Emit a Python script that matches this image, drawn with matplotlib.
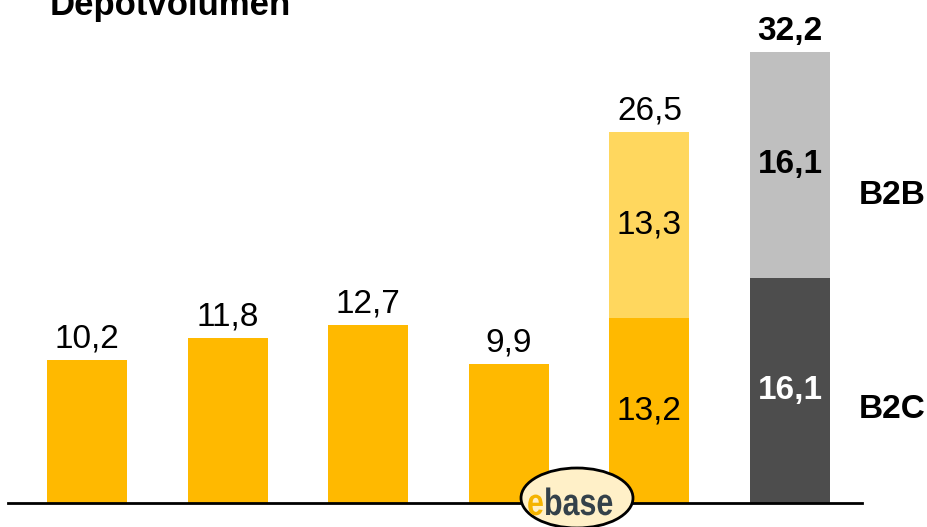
import matplotlib.pyplot as plt
from matplotlib.patches import Ellipse, PathPatch
from matplotlib.textpath import TextPath
from matplotlib.font_manager import FontProperties
from matplotlib.transforms import Affine2D

plt.rcParams['font.family'] = ['Liberation Sans', 'DejaVu Sans']

# data
b2c = [10.2, 11.8, 12.7, 9.9, 13.2, 16.1]
b2b = [0, 0, 0, 0, 13.3, 16.1]
totals = [10.2, 11.8, 12.7, 9.9, 26.5, 32.2]
bottom_colors = ['#FFB900'] * 5 + ['#4D4D4D']
top_colors = ['#FFB900'] * 4 + ['#FFD75E', '#BFBFBF']

W, H = 928, 527
fig = plt.figure(figsize=(W / 100, H / 100), dpi=100)
ax = fig.add_axes([8 / W, 24 / H, 854 / W, 503 / H])

x = list(range(len(b2c)))
bw = 0.569
ax.bar(x, b2c, width=bw, color=bottom_colors, zorder=2)
ax.bar(x, b2b, width=bw, bottom=b2c, color=top_colors, zorder=2)

ax.set_xlim(-0.562, 5.512)
ax.set_ylim(0, 503 / 14.0)
for s in ['top', 'left', 'right']:
    ax.spines[s].set_visible(False)
ax.spines['bottom'].set_linewidth(2)
ax.spines['bottom'].set_zorder(3)
ax.set_xticks([])
ax.set_yticks([])

FS = 24


def fmt(v):
    return f"{v:.1f}".replace('.', ',')


# totals above bars
for i, t in enumerate(totals):
    ax.annotate(fmt(t), (i, t), xytext=(0, 4), textcoords='offset points',
                ha='center', va='bottom', fontsize=FS,
                fontweight='bold' if i == 5 else 'normal')

# segment labels
ax.text(4, b2c[4] / 2, fmt(b2c[4]), ha='center', va='center', fontsize=FS)
ax.text(4, b2c[4] + b2b[4] / 2, fmt(b2b[4]), ha='center', va='center', fontsize=FS)
ax.text(5, b2c[5] / 2, fmt(b2c[5]), ha='center', va='center', fontsize=FS,
        fontweight='bold', color='white')
ax.text(5, b2c[5] + b2b[5] / 2, fmt(b2b[5]), ha='center', va='center', fontsize=FS,
        fontweight='bold')

fig.text(892 / W, 1 - 196 / H, 'B2B', ha='center', va='center', fontsize=FS,
         fontweight='bold')
fig.text(892 / W, 1 - 410 / H, 'B2C', ha='center', va='center', fontsize=FS,
         fontweight='bold')

fig.text(50 / W, 1 - 15 / H, 'Depotvolumen', ha='left', va='baseline',
         fontsize=25, fontweight='bold')

# ebase logo (ellipse + narrow lettering, placed in pixels)
logo = Ellipse((577 / W, 1 - 498 / H), 112 / W, 60 / H, transform=fig.transFigure,
               facecolor='#FFF0C8', edgecolor='black', linewidth=2, zorder=5)
fig.patches.append(logo)

fp = FontProperties(family='Liberation Sans', weight='bold')
for txt, col, px in [('e', '#F5B400', 527), ('base', '#34414A', 544)]:
    tp = TextPath((0, 0), txt, size=38, prop=fp)
    patch = PathPatch(tp, facecolor=col, edgecolor='none', zorder=6,
                      transform=Affine2D().scale(0.8, 1.0).translate(px, H - 515))
    fig.patches.append(patch)

fig.savefig('out.png', dpi=100)
